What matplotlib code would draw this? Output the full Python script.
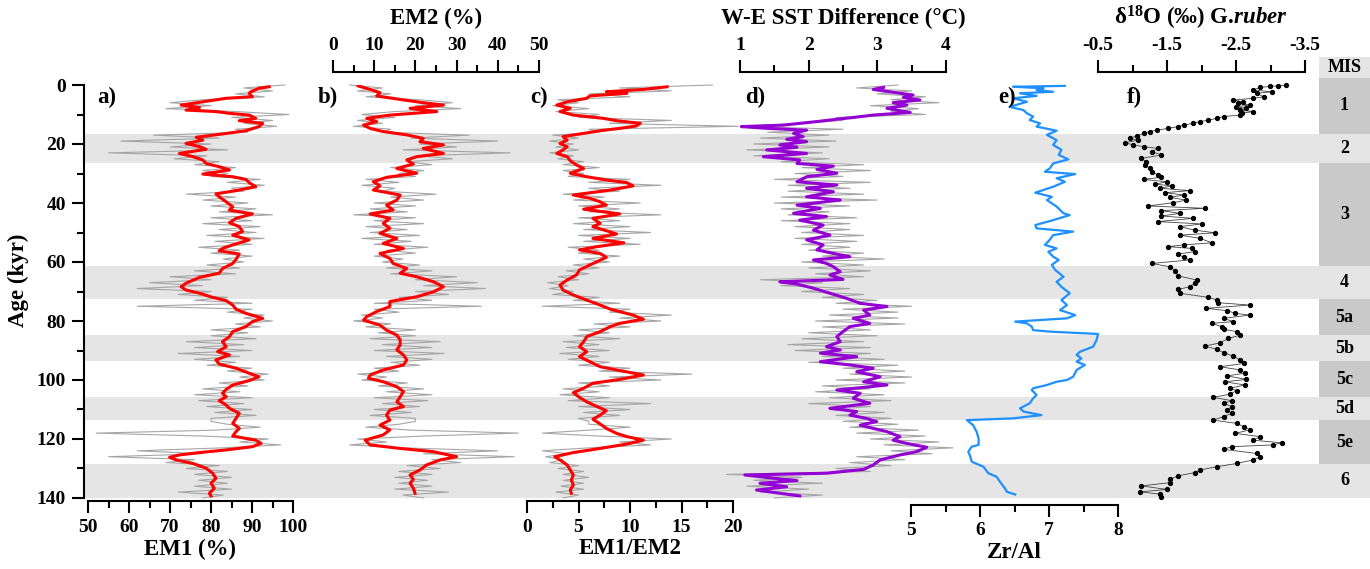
import numpy as np
import matplotlib
matplotlib.use('Agg')
import matplotlib.pyplot as plt
from matplotlib.ticker import FixedLocator

# ---------------- data (age in kyr) ----------------
age_raw = np.arange(0, 141)  # 1-kyr grid of the raw (grey) records

em1_raw = [98, 88, 95, 86, 93, 78, 70, 80, 69, 86,
           99, 85, 95, 88, 96, 86, 89, 66, 82, 58,
           80, 70, 84, 55, 79, 71, 82, 76, 86, 78,
           84, 80, 92, 84, 93, 85, 88, 74, 86, 78,
           89, 80, 91, 82, 95, 80, 90, 78, 92, 82,
           91, 79, 93, 81, 90, 77, 87, 80, 90, 83,
           88, 79, 87, 76, 86, 70, 80, 65, 78, 62,
           80, 72, 84, 76, 90, 62, 90, 84, 93, 88,
           95, 86, 92, 80, 89, 80, 91, 74, 88, 76,
           90, 72, 87, 76, 86, 79, 90, 84, 94, 87,
           93, 82, 89, 78, 87, 76, 90, 77, 88, 79,
           90, 81, 91, 80, 80, 84, 92, 81, 52, 78,
           94, 87, 97, 83, 62, 78, 55, 76, 69, 82,
           74, 84, 76, 85, 77, 84, 76, 85, 72, 83,
           78]

em2_raw = [4, 12, 6, 14, 8, 21, 29, 20, 31, 15,
           7, 15, 6, 12, 5, 14, 12, 33, 19, 40,
           21, 30, 17, 43, 21, 29, 18, 24, 14, 22,
           16, 20, 8, 16, 7, 15, 12, 25, 14, 22,
           10, 20, 9, 18, 5, 20, 10, 22, 8, 18,
           9, 21, 7, 19, 10, 23, 13, 20, 10, 17,
           12, 21, 13, 24, 14, 30, 20, 35, 22, 37,
           20, 28, 16, 24, 10, 36, 10, 16, 7, 12,
           5, 14, 8, 20, 11, 20, 9, 26, 12, 24,
           10, 27, 13, 24, 14, 21, 10, 16, 6, 13,
           7, 18, 11, 22, 13, 24, 10, 23, 12, 21,
           10, 19, 9, 20, 20, 16, 8, 19, 45, 22,
           6, 13, 4, 17, 40, 22, 44, 24, 31, 18,
           26, 16, 24, 15, 23, 16, 24, 15, 28, 17,
           22]

ratio_raw = [18, 9, 14, 6, 10, 3, 5, 2.5, 6, 2.8,
             7, 5, 14, 8, 20.5, 6, 7, 2.5, 5, 2.2,
             4.5, 2.8, 5, 2.2, 4.5, 3, 5.5, 3.5, 7, 3.5,
             5.5, 4, 10, 6, 13, 6, 9, 3.5, 7.5, 4.5,
             11, 5, 9, 6, 13, 5, 9, 4.5, 10, 5.5,
             12, 5, 10, 5.5, 11, 4, 7, 5, 9, 5.5,
             8, 4.5, 7, 3.8, 6, 3, 5, 2, 4, 2.2,
             4.5, 2.5, 7, 4.5, 9, 1.5, 10, 8, 14, 9,
             13, 6.5, 10, 5, 8, 4.5, 9, 3.5, 7, 3.8,
             8, 3.2, 7, 4, 8, 5, 10, 7, 16, 8,
             13, 5, 8, 3.5, 7, 3.2, 8, 4, 12, 5,
             10, 5.5, 9, 5, 6, 6, 10, 6, 1.5, 7,
             14, 9, 12, 6, 1.5, 4, 1.8, 3.5, 2.2, 5,
             3, 5.5, 3.5, 6, 3.5, 5.5, 3.3, 5.5, 2.8, 5,
             3.5]

sst_raw = [3.3, 2.7, 3.5, 3.0, 3.7, 3.2, 3.9, 2.9, 3.6, 3.2,
           3.7, 2.4, 2.5, 1.9, 1.0, 2.5, 1.4, 2.3, 1.3, 2.4,
           1.2, 2.3, 1.1, 2.2, 1.2, 2.3, 1.6, 2.8, 1.9, 2.9,
           1.8, 2.5, 1.5, 2.9, 1.7, 2.6, 1.7, 2.8, 1.6, 3.0,
           1.5, 2.6, 1.6, 2.3, 1.7, 2.7, 1.6, 2.6, 1.8, 2.6,
           1.9, 2.8, 1.8, 2.7, 1.9, 2.6, 2.0, 2.8, 2.2, 3.1,
           1.9, 2.8, 2.0, 2.9, 2.1, 2.8, 1.3, 2.2, 1.6, 2.6,
           1.9, 2.8, 2.2, 3.0, 2.4, 3.5, 2.5, 3.3, 2.3, 3.3,
           2.1, 3.4, 2.2, 2.9, 2.0, 3.0, 1.9, 2.8, 1.7, 2.9,
           1.8, 2.9, 2.2, 3.1, 2.0, 3.3, 2.5, 3.4, 2.6, 3.5,
           2.4, 3.4, 2.2, 2.9, 2.1, 3.1, 2.3, 3.2, 2.0, 2.9,
           2.3, 3.1, 2.4, 3.2, 2.5, 3.3, 2.6, 3.6, 2.7, 3.7,
           2.9, 3.9, 3.1, 4.1, 3.2, 3.8, 2.7, 3.4, 2.6, 3.2,
           2.4, 2.9, 0.8, 1.9, 1.2, 2.2, 1.1, 2.0, 1.3, 2.2,
           1.5]

# smoothed curves: (age, value)
em1_smooth = np.array([
    (0.6, 94.2), (1.1, 91.7), (2.3, 89.7), (2.8, 89.3), (4.0, 90.1), (4.5, 83.7), (5.7, 78.0),
    (6.8, 72.7), (7.6, 77.2), (8.5, 73.9), (9.0, 81.2), (9.6, 84.5), (10.2, 89.3), (11.3, 90.9),
    (12.1, 86.9), (13.0, 92.6), (14.1, 91.7), (15.5, 88.5), (16.6, 82.8), (17.7, 76.4), (18.7, 78.0),
    (19.8, 73.9), (20.9, 77.2), (21.8, 78.8), (23.2, 72.3), (24.3, 75.6), (25.4, 78.0), (26.6, 78.8),
    (27.7, 82.0), (28.8, 84.5), (30.2, 78.0), (31.1, 85.3), (32.0, 88.5), (33.1, 89.3), (34.5, 90.9),
    (35.8, 86.1), (36.9, 81.2), (37.9, 82.0), (39.6, 83.7), (41.3, 85.3), (42.4, 84.5), (43.7, 90.1),
    (45.2, 86.1), (46.7, 84.5), (48.0, 86.9), (49.7, 87.7), (50.9, 85.3), (52.5, 89.3), (54.2, 85.3),
    (55.4, 82.8), (56.2, 82.0), (57.3, 86.9), (59.1, 86.1), (60.5, 85.3), (62.2, 82.8), (63.8, 82.0),
    (65.2, 77.2), (67.2, 73.9), (68.4, 72.7), (69.5, 73.9), (70.6, 77.2), (72.0, 80.4), (73.1, 83.7),
    (74.6, 85.3), (76.0, 86.1), (77.4, 88.5), (79.1, 92.6), (80.2, 90.1), (81.9, 88.5), (83.6, 85.3),
    (85.3, 84.5), (87.0, 82.8), (88.7, 83.7), (90.4, 81.6), (91.5, 84.5), (93.2, 81.2), (94.6, 82.0),
    (96.0, 86.1), (97.7, 89.3), (98.9, 91.7), (100.2, 89.3), (101.7, 85.3), (103.2, 83.7), (104.5, 82.8),
    (105.7, 83.7), (107.0, 82.0), (108.5, 83.7), (109.6, 84.5), (111.3, 86.9), (113.0, 86.1),
    (114.7, 85.3), (116.4, 86.9), (117.5, 86.1), (119.0, 85.3), (120.4, 90.9), (121.5, 92.2),
    (122.6, 90.1), (123.7, 83.7), (124.6, 77.2), (125.4, 72.3), (126.2, 69.9), (127.1, 71.5),
    (128.3, 75.6), (129.9, 78.8), (131.6, 80.4), (133.3, 81.2), (135.0, 80.0), (136.7, 80.8),
    (138.4, 79.6), (139.3, 80.0)])

em2_smooth = np.array([
    (0.3, 6.1), (1.5, 9.0), (2.6, 11.4), (3.7, 10.6), (4.9, 16.3), (6.0, 21.9), (6.8, 26.8),
    (7.9, 18.7), (9.0, 25.2), (10.2, 13.8), (11.3, 8.2), (12.4, 10.6), (13.6, 7.4), (14.7, 9.0),
    (15.8, 12.2), (16.9, 17.9), (18.1, 21.9), (19.2, 21.1), (20.3, 26.8), (21.5, 21.9), (23.2, 26.8),
    (24.3, 20.3), (25.4, 17.9), (26.8, 19.5), (28.3, 15.5), (29.9, 20.3), (31.3, 13.0), (32.8, 9.8),
    (34.2, 11.4), (35.6, 9.8), (37.3, 16.3), (39.0, 15.5), (40.7, 13.0), (42.4, 14.6), (43.7, 9.0),
    (45.2, 13.8), (46.9, 12.2), (48.6, 13.8), (50.3, 11.4), (52.0, 15.5), (53.7, 12.2), (55.4, 17.1),
    (57.1, 11.4), (58.8, 13.8), (60.5, 14.6), (62.2, 17.9), (63.8, 16.3), (65.0, 20.3), (66.7, 24.4),
    (68.4, 26.8), (70.1, 24.4), (71.8, 20.3), (73.4, 13.8), (75.1, 13.8), (76.8, 10.6), (78.5, 8.2),
    (79.7, 7.4), (81.4, 11.4), (83.1, 13.0), (84.8, 15.5), (86.4, 16.3), (88.1, 16.3), (89.8, 15.5),
    (91.5, 17.1), (93.2, 17.9), (94.9, 17.1), (96.6, 12.2), (98.3, 9.0), (99.4, 8.6), (100.6, 12.2),
    (102.3, 15.5), (103.9, 17.1), (105.7, 16.3), (107.4, 15.5), (109.0, 17.1), (110.2, 13.8),
    (111.9, 13.0), (113.6, 13.8), (115.3, 11.4), (116.9, 13.8), (118.6, 12.2), (120.4, 7.8),
    (122.0, 9.0), (123.2, 16.3), (124.3, 24.4), (126.0, 30.0), (127.1, 26.0), (128.8, 22.7),
    (130.5, 21.1), (132.2, 18.7), (133.7, 19.5), (135.0, 18.7), (136.7, 19.5), (138.4, 19.9)])

ratio_smooth = np.array([
    (0.6, 13.6), (1.5, 11.3), (2.3, 7.7), (2.8, 9.7), (3.7, 6.1), (4.5, 5.8), (5.7, 3.9), (6.8, 2.9),
    (7.9, 4.2), (9.0, 3.2), (10.2, 4.5), (11.3, 7.4), (12.1, 8.7), (13.0, 11.0), (13.9, 10.6),
    (14.7, 9.0), (15.5, 7.1), (16.4, 5.5), (17.5, 3.5), (18.7, 3.9), (19.8, 3.2), (20.9, 3.9),
    (22.0, 3.5), (23.2, 2.9), (24.3, 3.9), (25.7, 4.2), (27.1, 4.8), (28.3, 5.5), (29.9, 4.2),
    (31.1, 5.8), (32.2, 7.7), (33.1, 9.7), (34.2, 10.3), (35.6, 8.1), (37.3, 4.5), (38.4, 6.1),
    (39.6, 7.1), (40.7, 7.7), (42.1, 5.5), (43.7, 9.0), (45.2, 6.4), (46.9, 7.1), (48.0, 6.4),
    (49.4, 7.7), (50.5, 8.7), (52.0, 6.4), (53.5, 9.4), (54.8, 6.8), (55.9, 5.1), (57.1, 7.1),
    (58.4, 7.7), (59.9, 6.8), (61.0, 6.1), (62.7, 5.1), (64.4, 4.8), (66.1, 3.9), (67.8, 3.2),
    (69.5, 3.5), (71.2, 4.5), (72.9, 5.8), (74.6, 7.1), (76.0, 8.1), (78.0, 10.3), (79.4, 11.3),
    (80.8, 9.0), (81.9, 8.1), (83.6, 7.1), (85.3, 5.8), (87.0, 5.5), (88.7, 5.1), (90.4, 5.8),
    (92.1, 5.1), (93.8, 6.1), (95.5, 7.1), (96.8, 9.0), (98.3, 11.3), (99.8, 9.0), (101.1, 6.4),
    (102.8, 5.5), (104.3, 4.5), (105.9, 5.1), (107.4, 5.8), (109.0, 6.8), (110.4, 7.7), (111.9, 7.1),
    (113.3, 6.4), (114.9, 7.1), (116.4, 7.7), (118.1, 8.7), (119.2, 9.7), (120.4, 11.3), (121.7, 9.7),
    (123.2, 7.1), (124.6, 4.5), (126.0, 2.7), (127.1, 3.2), (128.8, 3.9), (130.5, 4.2), (132.2, 4.5),
    (133.9, 4.3), (135.6, 4.5), (137.3, 4.2), (138.4, 4.3)])

sst_smooth = np.array([
    (0.8, 3.09), (1.5, 2.94), (2.3, 3.18), (2.8, 3.33), (3.4, 3.52), (4.2, 3.38), (5.1, 3.62),
    (6.0, 3.23), (6.8, 3.43), (7.9, 3.14), (8.5, 3.28), (9.3, 3.48), (10.2, 2.94), (11.0, 2.65),
    (11.6, 2.41), (12.4, 2.12), (13.6, 1.63), (14.1, 1.02), (14.7, 1.39), (15.3, 1.97), (16.4, 1.78),
    (17.5, 1.92), (18.4, 1.68), (19.2, 1.97), (20.3, 1.58), (21.1, 1.83), (22.0, 1.39), (23.2, 1.97),
    (24.3, 1.34), (25.4, 1.87), (26.6, 1.83), (27.5, 2.36), (28.6, 2.12), (29.9, 2.41), (31.1, 1.97),
    (32.8, 1.83), (33.9, 2.41), (35.0, 1.97), (36.2, 2.36), (37.9, 1.97), (39.0, 2.46), (40.7, 1.83),
    (41.8, 2.17), (43.5, 1.78), (44.6, 2.26), (45.8, 1.87), (47.5, 2.21), (49.2, 2.07), (50.9, 2.31),
    (52.5, 1.97), (54.2, 2.21), (55.9, 2.12), (57.1, 2.36), (58.2, 2.60), (59.3, 2.07), (60.5, 2.26),
    (61.6, 2.36), (63.3, 2.46), (64.4, 2.31), (65.9, 2.50), (66.7, 1.58), (67.5, 1.83), (68.9, 2.07),
    (70.6, 2.31), (72.3, 2.55), (74.0, 2.75), (75.1, 3.14), (76.3, 2.80), (78.0, 2.89), (79.1, 2.65),
    (80.8, 2.89), (81.9, 2.60), (83.6, 2.50), (85.3, 2.41), (87.0, 2.46), (88.7, 2.26), (89.8, 2.46),
    (90.9, 2.17), (92.1, 2.70), (93.8, 2.17), (94.9, 2.60), (96.0, 2.94), (97.2, 2.70), (98.9, 3.04),
    (100.6, 2.80), (101.7, 3.14), (103.4, 2.41), (104.5, 2.75), (106.2, 2.65), (107.9, 2.89),
    (109.6, 2.31), (110.7, 2.70), (111.9, 2.60), (113.0, 2.84), (114.1, 2.99), (115.3, 2.75),
    (116.4, 2.94), (117.5, 3.14), (119.2, 3.33), (120.4, 3.23), (121.5, 3.43), (122.8, 3.72),
    (124.3, 3.57), (125.4, 3.33), (127.1, 3.04), (128.8, 2.94), (130.3, 2.80), (131.6, 2.26),
    (132.2, 1.07), (133.3, 1.49), (134.1, 1.83), (135.0, 1.29), (136.2, 1.68), (137.3, 1.24),
    (138.4, 1.58), (139.3, 1.87)])

zral = np.array([
    (0.3, 7.23), (0.6, 6.48), (1.1, 6.92), (1.7, 6.82), (2.3, 7.06), (2.8, 6.58), (3.7, 6.82),
    (4.5, 6.48), (5.7, 6.68), (7.4, 6.43), (8.5, 6.63), (9.6, 6.68), (10.7, 6.77), (11.9, 6.72),
    (13.0, 6.87), (14.1, 6.82), (15.5, 7.11), (16.9, 6.97), (18.7, 7.11), (20.3, 7.06), (22.0, 7.18),
    (23.7, 7.14), (25.2, 7.28), (26.6, 7.06), (28.3, 7.01), (29.4, 6.94), (30.2, 7.38), (31.6, 7.11),
    (32.8, 7.23), (34.5, 7.06), (36.5, 6.80), (37.9, 7.04), (39.0, 6.97), (41.2, 7.11), (43.5, 7.21),
    (44.1, 7.30), (45.8, 7.06), (47.5, 6.80), (48.6, 6.82), (49.7, 7.35), (50.9, 7.06), (52.5, 7.01),
    (54.2, 6.94), (55.4, 7.11), (56.5, 6.99), (58.2, 7.06), (59.3, 7.14), (61.0, 7.04), (62.7, 7.09),
    (65.0, 7.21), (66.7, 7.11), (68.4, 7.18), (70.6, 7.30), (72.9, 7.18), (74.6, 7.26), (76.3, 7.16),
    (78.0, 7.38), (79.1, 7.26), (80.2, 6.51), (80.8, 6.68), (81.9, 6.75), (83.1, 6.77), (83.6, 7.01),
    (84.4, 7.71), (86.4, 7.69), (88.7, 7.64), (90.4, 7.45), (91.5, 7.40), (92.7, 7.47), (93.8, 7.40),
    (94.9, 7.52), (96.6, 7.40), (98.9, 7.35), (100.0, 7.26), (100.6, 7.11), (101.7, 6.97),
    (102.8, 6.77), (103.4, 6.75), (105.1, 6.82), (106.2, 6.77), (107.9, 6.72), (109.6, 6.58),
    (110.7, 6.63), (111.9, 6.89), (113.0, 6.48), (113.6, 5.81), (115.3, 5.90), (117.5, 5.95),
    (119.8, 5.98), (122.0, 5.98), (122.6, 5.88), (124.3, 5.83), (126.0, 5.86), (127.7, 5.88),
    (129.4, 6.05), (131.6, 6.12), (132.8, 6.24), (134.5, 6.29), (136.7, 6.36), (137.9, 6.39),
    (138.8, 6.51)])

d18o = np.array([
    (0.0, -3.23), (0.3, -3.11), (0.5, -2.99), (0.8, -2.85), (1.7, -2.75), (2.3, -3.02), (2.8, -2.80),
    (4.0, -2.90), (4.5, -2.75), (5.1, -2.46), (5.7, -2.60), (6.2, -2.53), (6.8, -2.70), (7.4, -2.50),
    (7.9, -2.65), (8.5, -2.56), (9.0, -2.75), (9.6, -2.58), (10.2, -2.56), (10.7, -2.32), (11.3, -2.22),
    (11.9, -2.10), (12.4, -1.98), (13.0, -1.88), (13.6, -1.74), (14.1, -1.66), (14.7, -1.52),
    (15.3, -1.35), (15.8, -1.25), (16.4, -1.16), (17.3, -1.06), (18.1, -0.96), (18.7, -1.08),
    (19.6, -0.89), (20.3, -1.01), (20.9, -1.16), (21.5, -1.37), (22.6, -1.28), (23.7, -1.42),
    (24.9, -1.13), (26.0, -1.20), (27.1, -1.18), (28.2, -1.25), (29.4, -1.28), (30.5, -1.37),
    (31.3, -1.42), (32.0, -1.16), (32.8, -1.50), (33.6, -1.33), (34.2, -1.57), (35.0, -1.40),
    (35.8, -1.83), (36.5, -1.47), (37.3, -1.74), (38.1, -1.54), (39.0, -1.78), (39.9, -1.59),
    (41.0, -1.23), (41.8, -2.05), (42.6, -1.42), (43.5, -1.69), (44.4, -1.42), (45.2, -1.88),
    (46.3, -1.37), (47.1, -2.00), (48.0, -1.69), (49.2, -1.90), (50.1, -2.20), (50.9, -1.69),
    (52.0, -1.98), (53.5, -2.15), (54.2, -1.74), (54.8, -1.52), (55.4, -1.86), (56.5, -1.90),
    (57.3, -1.66), (58.4, -1.74), (59.3, -1.83), (60.5, -1.28), (61.6, -1.54), (62.9, -1.62),
    (64.7, -1.66), (66.1, -1.93), (67.2, -1.90), (68.4, -1.83), (69.3, -1.66), (70.6, -1.69),
    (72.0, -2.10), (72.9, -2.22), (73.8, -2.24), (74.6, -2.70), (75.7, -2.07), (76.5, -2.37),
    (77.4, -2.49), (78.0, -2.70), (79.1, -2.32), (80.2, -2.46), (80.8, -2.15), (81.9, -2.29),
    (82.8, -2.32), (83.6, -2.51), (84.8, -2.56), (85.9, -2.39), (87.4, -2.27), (88.5, -2.05),
    (89.6, -2.22), (90.7, -2.32), (91.9, -2.46), (93.2, -2.56), (94.4, -2.61), (95.5, -2.27),
    (96.6, -2.56), (97.7, -2.63), (98.6, -2.37), (99.8, -2.65), (100.6, -2.34), (101.7, -2.63),
    (102.8, -2.41), (103.6, -2.51), (104.8, -2.41), (105.9, -2.17), (107.0, -2.44), (107.9, -2.32),
    (109.0, -2.44), (110.2, -2.37), (111.3, -2.44), (112.4, -2.32), (113.6, -2.17), (114.7, -2.51),
    (115.8, -2.61), (116.9, -2.70), (118.1, -2.49), (119.2, -2.85), (120.4, -2.75), (121.3, -3.16),
    (122.0, -3.04), (122.6, -2.44), (123.5, -2.32), (124.9, -2.80), (126.0, -2.85), (127.1, -2.75),
    (128.3, -2.51), (129.4, -2.22), (130.5, -1.98), (131.4, -1.90), (132.5, -1.66), (133.7, -1.54),
    (134.8, -1.54), (135.9, -1.13), (137.1, -1.50), (137.9, -1.11), (138.7, -1.40), (139.6, -1.42)])

mis_labels = ['MIS', '1', '2', '3', '4', '5a', '5b', '5c', '5d', '5e', '6']
mis_top = [-9.5, -2.4, 16.5, 26.6, 61.2, 72.4, 84.9, 93.6, 105.9, 113.7, 128.4]
mis_bot = [-2.4, 16.5, 26.6, 61.2, 72.4, 84.9, 93.6, 105.9, 113.7, 128.4, 140.0]
mis_glacial = [True, False, True, False, True, False, True, False, True, False, True]

# ---------------- style ----------------
plt.rcParams['font.family'] = ['Liberation Serif', 'DejaVu Serif']
plt.rcParams['font.weight'] = 'bold'
plt.rcParams['axes.unicode_minus'] = False
plt.rcParams['mathtext.fontset'] = 'custom'
plt.rcParams['mathtext.rm'] = 'Liberation Serif:bold'
plt.rcParams['mathtext.it'] = 'Liberation Serif:italic:bold'
plt.rcParams['mathtext.bf'] = 'Liberation Serif:bold'

LIGHT = '#e5e5e5'
DARK = '#c9c9c9'
GREY = '#a6a6a6'
W, H = 1370, 569
TOP, BOT = 85, 498   # pixel rows of age 0 and age 140

fig = plt.figure(figsize=(W / 100, H / 100), dpi=100)


def px_axes(x0, x1, y0=TOP, y1=BOT):
    ax = fig.add_axes([x0 / W, 1 - y1 / H, (x1 - x0) / W, (y1 - y0) / H])
    ax.patch.set_alpha(0)
    return ax


def ftext(x, y, s, **kw):
    kw.setdefault('fontsize', 16.5)
    fig.text(x / W, 1 - y / H, s, **kw)


def panel(x0, x1, xlim, major, minor, side, offset):
    ax = px_axes(x0, x1)
    ax.set_xlim(*xlim)
    ax.set_ylim(140, 0)
    for sp in ax.spines.values():
        sp.set_visible(False)
    sp = ax.spines[side]
    sp.set_visible(True)
    sp.set_linewidth(1.5)
    sp.set_position(('outward', offset))
    ax.xaxis.set_ticks_position(side)
    ax.xaxis.set_major_locator(FixedLocator(major))
    ax.xaxis.set_minor_locator(FixedLocator(minor))
    ax.tick_params(axis='x', which='major', direction='out', length=8.5, width=1.5,
                   labelsize=14, pad=4)
    ax.tick_params(axis='x', which='minor', direction='out', length=5, width=1.5)
    ax.set_yticks([])
    return ax


# background: y axis + glacial bands
bg = px_axes(84, 1319)
bg.set_xlim(0, 1)
bg.set_ylim(140, 0)
for lab, a0, a1, g in zip(mis_labels, mis_top, mis_bot, mis_glacial):
    if g and lab != 'MIS':
        bg.axhspan(a0, a1, color=LIGHT, lw=0, zorder=0)
for k in ['top', 'right', 'bottom']:
    bg.spines[k].set_visible(False)
bg.spines['left'].set_linewidth(1.5)
bg.set_xticks([])
bg.yaxis.set_major_locator(FixedLocator(np.arange(0, 141, 20)))
bg.yaxis.set_minor_locator(FixedLocator(np.arange(10, 140, 20)))
bg.tick_params(axis='y', which='major', length=9, width=1.5, labelsize=14, pad=4)
bg.tick_params(axis='y', which='minor', length=5, width=1.5)
ftext(18, 280, 'Age (kyr)', rotation=90, ha='center', va='center')

# a) EM1
ax = panel(88, 293, (50, 100), range(50, 101, 10), range(55, 100, 10), 'bottom', 2.5)
ax.plot(em1_raw, age_raw, color=GREY, lw=0.8, clip_on=False)
ax.plot(em1_smooth[:, 1], em1_smooth[:, 0], color='red', lw=2.2)
ftext(190, 549, 'EM1 (%)', ha='center', va='center')

# b) EM2
ax = panel(333, 539, (0, 50), range(0, 51, 10), range(5, 50, 10), 'top', 9.5)
ax.plot(em2_raw, age_raw, color=GREY, lw=0.8, clip_on=False)
ax.plot(em2_smooth[:, 1], em2_smooth[:, 0], color='red', lw=2.2)
ftext(436, 18, 'EM2 (%)', ha='center', va='center')

# c) EM1/EM2
ax = panel(527, 733, (0, 20), [0, 5, 10, 15, 20], [2.5, 7.5, 12.5, 17.5], 'bottom', 2.5)
ax.plot(ratio_raw, age_raw, color=GREY, lw=0.8, clip_on=False)
ax.plot(ratio_smooth[:, 1], ratio_smooth[:, 0], color='red', lw=2.2)
ftext(630, 549, 'EM1/EM2', ha='center', va='center')

# d) W-E SST difference
ax = panel(740, 946, (1, 4), [1, 2, 3, 4], [1.5, 2.5, 3.5], 'top', 9.5)
ax.plot(sst_raw, age_raw, color=GREY, lw=0.8, clip_on=False)
ax.plot(sst_smooth[:, 1], sst_smooth[:, 0], color='#9400d3', lw=2.2)
ftext(843, 18, 'W-E SST Difference (°C)', ha='center', va='center')

# e) Zr/Al
ax = panel(911, 1118, (5, 8), [5, 6, 7, 8], [5.5, 6.5, 7.5], 'bottom', 5)
ax.plot(zral[:, 1], zral[:, 0], color='#1e90ff', lw=1.6, clip_on=False)
ftext(1014, 553, 'Zr/Al', ha='center', va='center')

# f) d18O G. ruber
ax = panel(1098, 1305, (-0.5, -3.5), [-0.5, -1.5, -2.5, -3.5], [-1, -2, -3], 'top', 9.5)
ax.plot(d18o[:, 1], d18o[:, 0], color='#444444', lw=0.6, marker='o', ms=2.8,
        mfc='black', mec='black', clip_on=False)
ftext(1201, 18, 'δ$^{18}$O (‰) G.$\\mathit{ruber}$', ha='center', va='center')

# panel letters
for x, s in zip([97, 318, 530, 745, 998, 1127], ['a)', 'b)', 'c)', 'd)', 'e)', 'f)']):
    ftext(x, 97, s, ha='left', va='center')

# MIS column
mis = px_axes(1319, 1370, 57, BOT)
mis.set_xlim(0, 1)
mis.set_ylim(140, -9.5)
mis.axis('off')
for lab, a0, a1, g in zip(mis_labels, mis_top, mis_bot, mis_glacial):
    mis.barh((a0 + a1) / 2, 1, height=a1 - a0, left=0, color=LIGHT if g else DARK, lw=0)
    mis.text(0.5, (a0 + a1) / 2, lab, ha='center', va='center', fontsize=13)

fig.savefig('out.png', dpi=100)
